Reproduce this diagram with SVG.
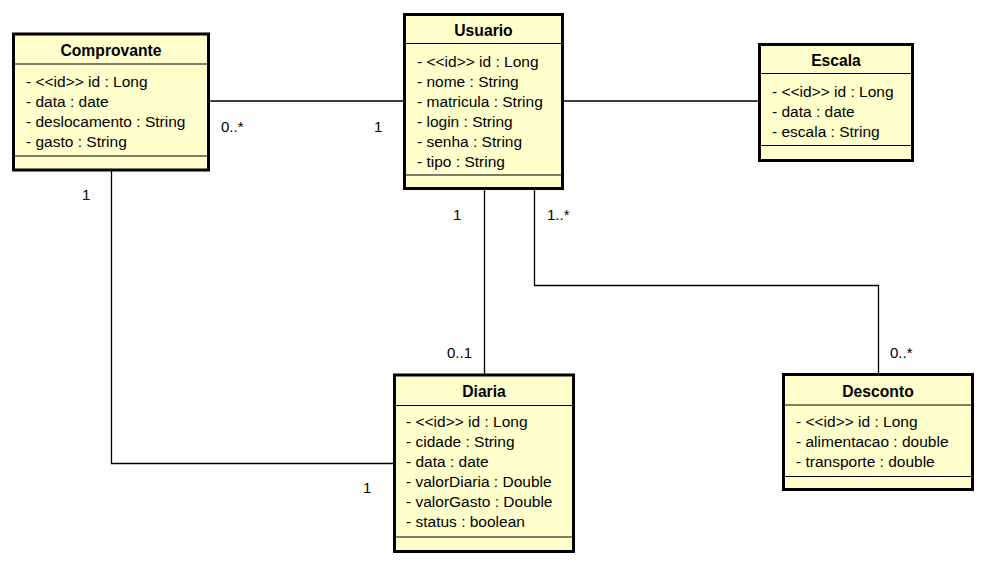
<svg xmlns="http://www.w3.org/2000/svg" width="986" height="565" viewBox="0 0 986 565">
<style>
.box{fill:#FFFFCC;stroke:#000;stroke-width:3}
.sep{stroke:#000;stroke-width:1;fill:none}
.title{font-family:"Liberation Sans",Arial,sans-serif;font-size:15.7px;font-weight:bold;text-anchor:middle;fill:#000}
.attr{font-family:"Liberation Sans",Arial,sans-serif;font-size:15.5px;fill:#000}
.lbl{font-family:"Liberation Sans",Arial,sans-serif;font-size:15px;fill:#000}
.conn{stroke:#000;stroke-width:1.3;fill:none}
</style>
<rect width="986" height="565" fill="#fff"/>
<g id="connectors">
<polyline class="conn" points="210,101 403,101"/>
<polyline class="conn" points="564,101 758,101"/>
<polyline class="conn" points="111.5,171 111.5,463.5 393,463.5"/>
<polyline class="conn" points="484.5,190 484.5,374"/>
<polyline class="conn" points="534.5,190 534.5,285.5 878.5,285.5 878.5,373"/>
<text class="lbl" x="221" y="132">0..*</text>
<text class="lbl" x="374" y="132">1</text>
<text class="lbl" x="82" y="200">1</text>
<text class="lbl" x="363" y="493">1</text>
<text class="lbl" x="453" y="220">1</text>
<text class="lbl" x="447" y="358">0..1</text>
<text class="lbl" x="547" y="220">1..*</text>
<text class="lbl" x="890" y="358">0..*</text>
</g>
<g id="comprovante">
<rect class="box" x="13.5" y="34" width="195" height="136"/>
<line class="sep" x1="13.5" y1="64" x2="208.5" y2="64"/>
<line class="sep" x1="13.5" y1="156" x2="208.5" y2="156"/>
<text class="title" x="111" y="56">Comprovante</text>
<text class="attr" x="26" y="86.5">- &lt;&lt;id&gt;&gt; id : Long</text>
<text class="attr" x="26" y="106.5">- data : date</text>
<text class="attr" x="26" y="126.5">- deslocamento : String</text>
<text class="attr" x="26" y="146.5">- gasto : String</text>
</g>
<g id="usuario">
<rect class="box" x="404.5" y="14.5" width="158" height="174"/>
<line class="sep" x1="404.5" y1="43.5" x2="562.5" y2="43.5"/>
<line class="sep" x1="404.5" y1="175" x2="562.5" y2="175"/>
<text class="title" x="483.5" y="36">Usuario</text>
<text class="attr" x="417" y="66.5">- &lt;&lt;id&gt;&gt; id : Long</text>
<text class="attr" x="417" y="86.5">- nome : String</text>
<text class="attr" x="417" y="106.5">- matricula : String</text>
<text class="attr" x="417" y="126.5">- login : String</text>
<text class="attr" x="417" y="146.5">- senha : String</text>
<text class="attr" x="417" y="166.5">- tipo : String</text>
</g>
<g id="escala">
<rect class="box" x="759.5" y="44.5" width="153" height="116"/>
<line class="sep" x1="759.5" y1="73.5" x2="912.5" y2="73.5"/>
<line class="sep" x1="759.5" y1="145.5" x2="912.5" y2="145.5"/>
<text class="title" x="836" y="66">Escala</text>
<text class="attr" x="772" y="96.5">- &lt;&lt;id&gt;&gt; id : Long</text>
<text class="attr" x="772" y="116.5">- data : date</text>
<text class="attr" x="772" y="136.5">- escala : String</text>
</g>
<g id="diaria">
<rect class="box" x="394.5" y="375" width="179" height="176.5"/>
<line class="sep" x1="394.5" y1="405.5" x2="573.5" y2="405.5"/>
<line class="sep" x1="394.5" y1="537" x2="573.5" y2="537"/>
<text class="title" x="484" y="397">Diaria</text>
<text class="attr" x="406" y="426.5">- &lt;&lt;id&gt;&gt; id : Long</text>
<text class="attr" x="406" y="446.5">- cidade : String</text>
<text class="attr" x="406" y="466.5">- data : date</text>
<text class="attr" x="406" y="486.5">- valorDiaria : Double</text>
<text class="attr" x="406" y="506.5">- valorGasto : Double</text>
<text class="attr" x="406" y="526.5">- status : boolean</text>
</g>
<g id="desconto">
<rect class="box" x="783.5" y="374.5" width="189" height="115"/>
<line class="sep" x1="783.5" y1="405" x2="972.5" y2="405"/>
<line class="sep" x1="783.5" y1="476.5" x2="972.5" y2="476.5"/>
<text class="title" x="878" y="397">Desconto</text>
<text class="attr" x="796" y="426.5">- &lt;&lt;id&gt;&gt; id : Long</text>
<text class="attr" x="796" y="446.5">- alimentacao : double</text>
<text class="attr" x="796" y="466.5">- transporte : double</text>
</g>
</svg>
